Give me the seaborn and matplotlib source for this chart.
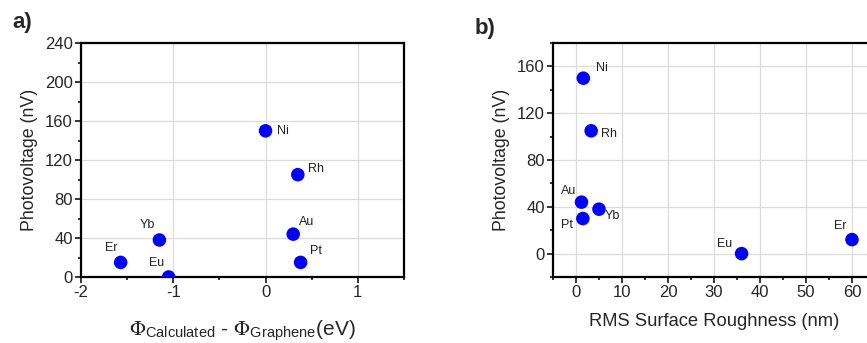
import matplotlib
matplotlib.use('Agg')
import matplotlib.pyplot as plt
import seaborn as sns
import pandas as pd
from matplotlib.ticker import MultipleLocator

################################################################################

metals_a = ['Ni', 'Rh', 'Au', 'Pt', 'Yb', 'Er', 'Eu']
work_fn_diff = [0.0, 0.35, 0.30, 0.38, -1.15, -1.57, -1.05]
photovoltage_a = [150, 105, 44, 15, 38, 15, 0]

metals_b = ['Ni', 'Rh', 'Au', 'Pt', 'Yb', 'Eu', 'Er']
roughness = [1.6, 3.3, 1.2, 1.5, 5.0, 36, 60]
photovoltage_b = [150, 105, 44, 30, 38, 0, 12]

# label offsets in points, and alignment
offsets_a = {'Ni': (8, 0, 'left'), 'Rh': (7, 4, 'left'), 'Au': (4, 9, 'left'),
             'Pt': (7, 8, 'left'), 'Yb': (-3, 11, 'right'), 'Er': (-2, 10, 'right'),
             'Eu': (-3, 10, 'right')}
offsets_b = {'Ni': (9, 7, 'left'), 'Rh': (7, -2, 'left'), 'Au': (-4, 8, 'right'),
             'Pt': (-7, -5, 'right'), 'Yb': (4, -5, 'left'), 'Eu': (-7, 7, 'right'),
             'Er': (-4, 10, 'right')}

################################################################################

sns.set_style('ticks')
plt.rcParams['font.family'] = ['Liberation Sans', 'DejaVu Sans']
plt.rcParams['mathtext.fontset'] = 'stix'
plt.rcParams['axes.unicode_minus'] = False

fig = plt.figure(figsize=(8.67, 3.43), dpi=100)
ax_a = fig.add_axes([0.0934, 0.1924, 0.3725, 0.682])
ax_b = fig.add_axes([0.6378, 0.1924, 0.3714, 0.682])

df_a = pd.DataFrame({'metal': metals_a, 'x': work_fn_diff, 'y': photovoltage_a})
df_b = pd.DataFrame({'metal': metals_b, 'x': roughness, 'y': photovoltage_b})


def style_axis(ax, xmaj, xmin, ymaj, ymin):
    ax.xaxis.set_major_locator(MultipleLocator(xmaj))
    ax.xaxis.set_minor_locator(MultipleLocator(xmin))
    ax.yaxis.set_major_locator(MultipleLocator(ymaj))
    ax.yaxis.set_minor_locator(MultipleLocator(ymin))
    ax.grid(True, which='major', color='#dcdcdc', linewidth=0.9)
    ax.set_axisbelow(True)
    for s in ax.spines.values():
        s.set_linewidth(1.6)
        s.set_color('black')
    ax.tick_params(which='major', direction='out', length=4, width=1.3,
                   labelsize=12, pad=2, top=False, right=False)
    ax.tick_params(which='minor', direction='out', length=2.5, width=1.3,
                   top=False, right=False)


def draw_panel(ax, df, offsets):
    sns.scatterplot(data=df, x='x', y='y', ax=ax, s=95, color='#0000ff',
                    edgecolor='none', linewidth=0, zorder=3)
    for _, row in df.iterrows():
        dx, dy, ha = offsets[row.metal]
        ax.annotate(row.metal, (row.x, row.y), xytext=(dx, dy),
                    textcoords='offset points', ha=ha, va='center',
                    fontsize=9, color='#222222')


draw_panel(ax_a, df_a, offsets_a)
ax_a.set_xlim(-2, 1.5)
ax_a.set_ylim(0, 240)
style_axis(ax_a, 1, 0.5, 40, 20)
ax_a.set_ylabel('Photovoltage (nV)', fontsize=12.8, labelpad=5)
ax_a.set_xlabel(r'$\Phi_{\mathregular{Calculated}}$ - $\Phi_{\mathregular{Graphene}}$(eV)',
                fontsize=15, labelpad=13)

draw_panel(ax_b, df_b, offsets_b)
ax_b.set_xlim(-5, 65)
ax_b.set_ylim(-20, 180)
style_axis(ax_b, 10, 5, 40, 20)
ax_b.set_ylabel('Photovoltage (nV)', fontsize=12.8, labelpad=5)
ax_b.set_xlabel('RMS Surface Roughness (nm)', fontsize=13.2, labelpad=9)

fig.text(0.014, 0.935, 'a)', fontsize=16, fontweight='bold', va='center')
fig.text(0.547, 0.918, 'b)', fontsize=16, fontweight='bold', va='center')

fig.savefig('out.png', dpi=100)
